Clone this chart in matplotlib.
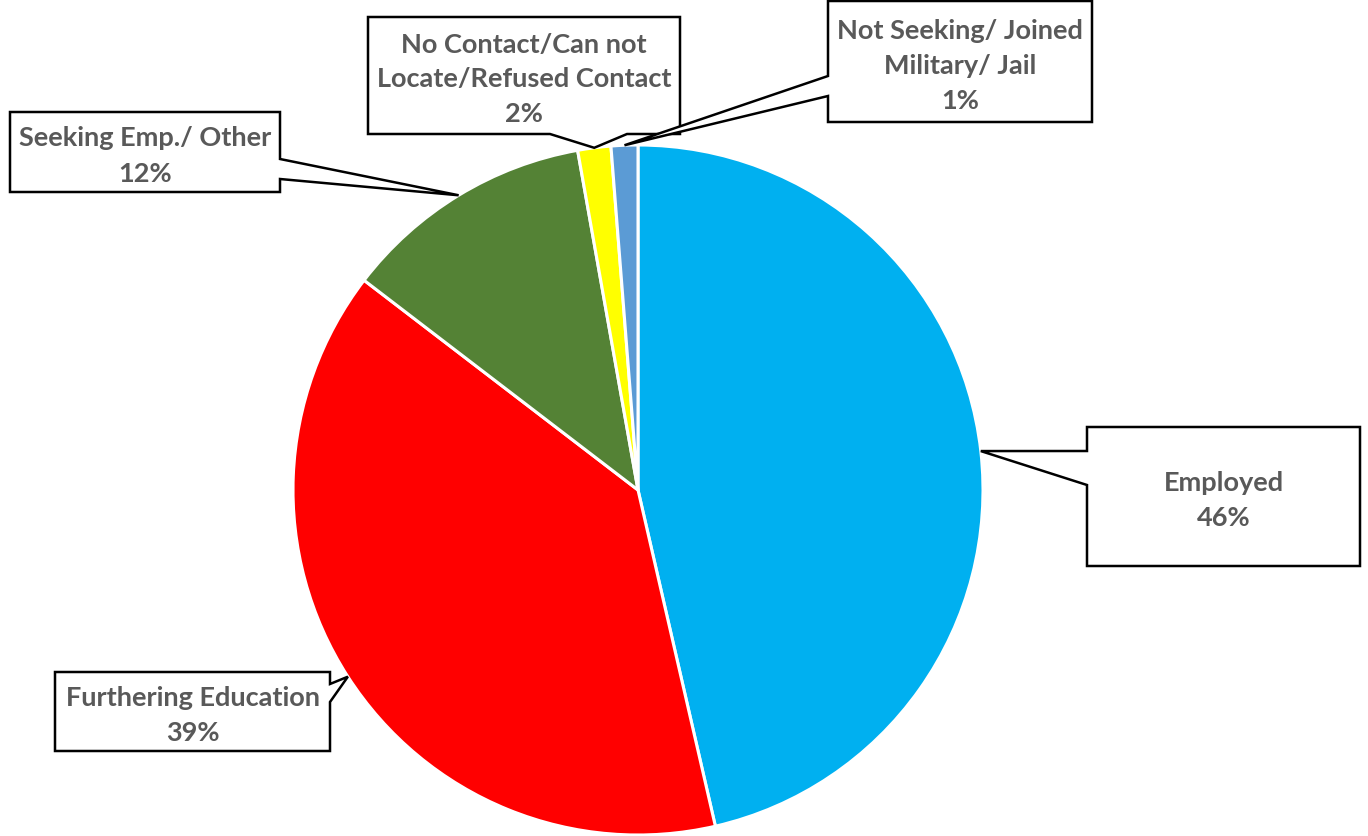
import matplotlib
matplotlib.use('Agg')
import matplotlib.pyplot as plt
import numpy as np
from matplotlib.patches import Polygon

# data
categories = ['Employed', 'Furthering Education', 'Seeking Emp./ Other',
              'No Contact/Can not\nLocate/Refused Contact', 'Not Seeking/ Joined\nMilitary/ Jail']
shares = [46.4, 39.0, 11.8, 1.55, 1.25]
colors = ['#00B0F0', '#FF0000', '#548235', '#FFFF00', '#5B9BD5']

W, H = 1368, 837
CX, CY, R = 638, 491, 345   # pixel layout of the pie (y from top)

# callout boxes: (left, top, right, bottom), pointer side, pointer base positions
boxes = [
    ((1087, 428, 1360, 567), 'left', 452, 486),
    ((55, 673, 330, 752), 'right', 685, 703),
    ((10, 113, 280, 193), 'right', 160, 180),
    ((368, 18, 680, 135), 'bottom', 550, 627),
    ((828, 2, 1092, 123), 'left', 77, 97),
]

plt.rcParams['font.family'] = ['Lato', 'DejaVu Sans']

fig = plt.figure(figsize=(W / 100, H / 100), dpi=100)
ax = fig.add_axes([0, 0, 1, 1])

wedges, _ = ax.pie(shares, colors=colors, startangle=90, counterclock=False,
                   center=(CX, H - CY), radius=R,
                   wedgeprops=dict(edgecolor='white', linewidth=2.2))


def callout(box, side, a, b, tip):
    x0, y0, x1, y1 = box
    if side == 'left':
        pts = [(x0, y0), (x1, y0), (x1, y1), (x0, y1), (x0, b), None, (x0, a)]
    elif side == 'right':
        pts = [(x0, y0), (x1, y0), (x1, a), None, (x1, b), (x1, y1), (x0, y1)]
    else:
        pts = [(x0, y0), (x1, y0), (x1, y1), (b, y1), None, (a, y1), (x0, y1)]
    out = []
    for p in pts:
        if p is None:
            out.append(tip)
        else:
            out.append((p[0], H - p[1]))
    return out


total = sum(shares)
for w, cat, v, (box, side, a, b) in zip(wedges, categories, shares, boxes):
    mid = np.deg2rad((w.theta1 + w.theta2) / 2)
    tip = (CX + R * np.cos(mid), H - CY + R * np.sin(mid))
    poly = Polygon(callout(box, side, a, b, tip), closed=True, facecolor='white',
                   edgecolor='black', linewidth=1.8, joinstyle='miter', zorder=3)
    ax.add_patch(poly)
    tx = (box[0] + box[2]) / 2
    ty = H - (box[1] + box[3]) / 2 - 3
    ax.text(tx, ty, f"{cat}\n{v / total * 100:.0f}%", ha='center', va='center',
            fontsize=19.5, fontweight='bold', color='#595959', linespacing=1.55, zorder=4)

ax.set_xlim(0, W)
ax.set_ylim(0, H)
ax.set_aspect('equal')
ax.axis('off')

fig.savefig('out.png', dpi=100, facecolor='white')
